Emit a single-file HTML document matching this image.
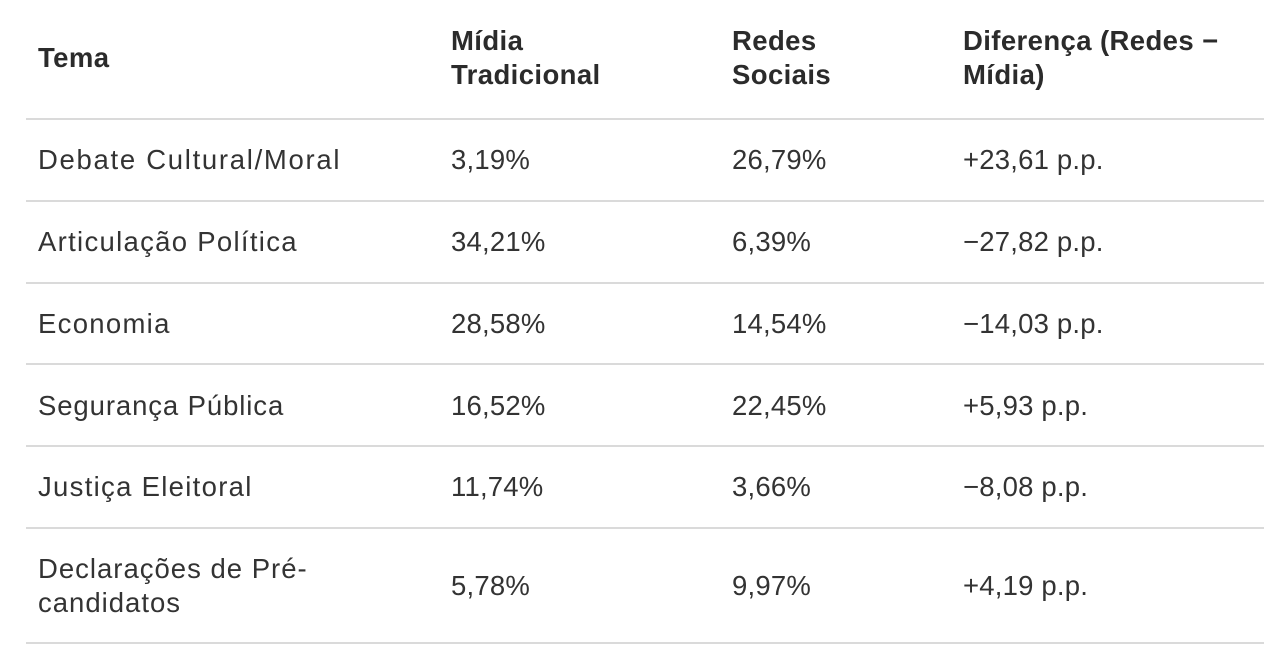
<!DOCTYPE html>
<html><head><meta charset="utf-8"><style>
html,body{margin:0;padding:0;background:#fff;width:1264px;height:672px;overflow:hidden}
body{position:relative;font-family:"Liberation Sans",sans-serif;color:#333;font-size:27.5px;letter-spacing:1.3px}
.t{position:absolute;white-space:nowrap;line-height:34px}
.n{letter-spacing:0.2px}
.h{font-weight:bold;color:#2b2b2b;letter-spacing:0.4px}
.l{position:absolute;left:26px;width:1238px;height:2px;background:#dadada}
</style></head><body>
<div class="t h" style="left:38px;top:41px">Tema</div>
<div class="t h" style="left:451px;top:24px">Mídia<br>Tradicional</div>
<div class="t h" style="left:732px;top:24px">Redes<br>Sociais</div>
<div class="t h" style="left:963px;top:24px">Diferença (Redes −<br>Mídia)</div>
<div class="l" style="top:118px"></div>

<div class="t" style="left:38px;top:143px;letter-spacing:1.7px">Debate Cultural/Moral</div>
<div class="t n" style="left:451px;top:143px">3,19%</div>
<div class="t n" style="left:732px;top:143px">26,79%</div>
<div class="t n" style="left:963px;top:143px">+23,61 p.p.</div>
<div class="l" style="top:200px"></div>

<div class="t" style="left:38px;top:225px">Articulação Política</div>
<div class="t n" style="left:451px;top:225px">34,21%</div>
<div class="t n" style="left:732px;top:225px">6,39%</div>
<div class="t n" style="left:963px;top:225px">−27,82 p.p.</div>
<div class="l" style="top:282px"></div>

<div class="t" style="left:38px;top:307px">Economia</div>
<div class="t n" style="left:451px;top:307px">28,58%</div>
<div class="t n" style="left:732px;top:307px">14,54%</div>
<div class="t n" style="left:963px;top:307px">−14,03 p.p.</div>
<div class="l" style="top:363px"></div>

<div class="t" style="left:38px;top:389px;letter-spacing:0.9px">Segurança Pública</div>
<div class="t n" style="left:451px;top:389px">16,52%</div>
<div class="t n" style="left:732px;top:389px">22,45%</div>
<div class="t n" style="left:963px;top:389px">+5,93 p.p.</div>
<div class="l" style="top:445px"></div>

<div class="t" style="left:38px;top:470px">Justiça Eleitoral</div>
<div class="t n" style="left:451px;top:470px">11,74%</div>
<div class="t n" style="left:732px;top:470px">3,66%</div>
<div class="t n" style="left:963px;top:470px">−8,08 p.p.</div>
<div class="l" style="top:527px"></div>

<div class="t" style="left:38px;top:552px;letter-spacing:1.0px">Declarações de Pré-<br>candidatos</div>
<div class="t n" style="left:451px;top:569px">5,78%</div>
<div class="t n" style="left:732px;top:569px">9,97%</div>
<div class="t n" style="left:963px;top:569px">+4,19 p.p.</div>
<div class="l" style="top:642px"></div>
</body></html>
